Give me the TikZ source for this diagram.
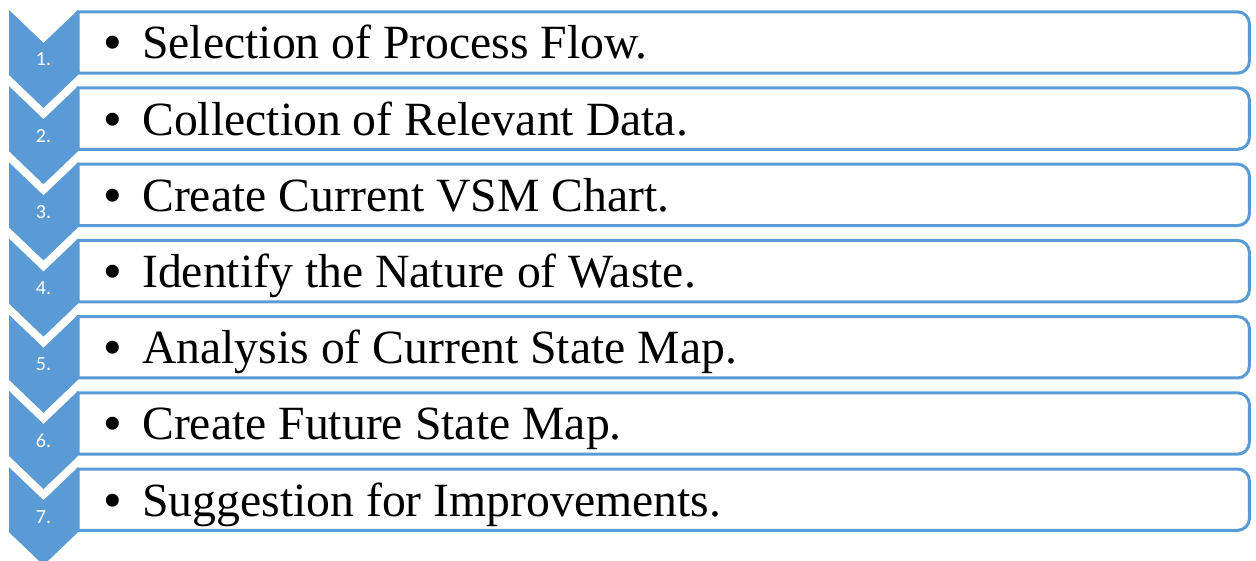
\documentclass[tikz,border=0pt]{standalone}
\usepackage{fontspec}
\setmainfont{Liberation Serif}
\newfontfamily\numfont{Carlito}
\newfontfamily\bulletfont{Liberation Sans}
\definecolor{accentblue}{HTML}{5B9BD5}
\begin{document}
\begin{tikzpicture}[x=1pt,y=1pt,
  chev/.style={fill=accentblue,draw=none},
  stepnum/.style={text=white,font=\numfont\fontsize{20}{24}\selectfont,inner sep=0pt,anchor=base},
  stepbox/.style={anchor=west,minimum width=1171pt,minimum height=61pt,
    inner ysep=0pt,inner xsep=26pt,text width=1119pt,align=flush left,
    text height=40pt,text depth=7pt,font=\fontsize{47.7}{57}\selectfont},
  boxline/.style={draw=accentblue,line width=3pt}]
\useasboundingbox (0,0) rectangle (1256,560);
\clip (0,0) rectangle (1256,560);
\foreach \i/\txt [count=\n] in {
    0/Selection of Process Flow.,
    1/Collection of Relevant Data.,
    2/Create Current VSM Chart.,
    3/Identify the Nature of Waste.,
    4/Analysis of Current State Map.,
    5/Create Future State Map.,
    6/Suggestion for Improvements.} {
  % top of the chevron and of the box for this step
  \pgfmathsetmacro\t{550-76.2*\i}
  \pgfmathsetmacro\bt{548-76.2*\i}
  % downward chevron
  \fill[chev] (9,\t) -- (43.5,\t-33) -- (78,\t) -- (78,\t-65)
    -- (43.5,\t-98) -- (9,\t-65) -- cycle;
  \node[stepnum] (n\n) at (43.5,\t-56) {\n.};
  % text box, square on the left, rounded on the right
  \node[stepbox] (b\n) at (78,\bt-30.5)
    {\makebox[38pt][l]{\bulletfont\textbullet}\txt};
  \draw[boxline] (b\n.north west) -- ([xshift=-12pt]b\n.north east)
    arc[start angle=90,end angle=0,radius=12pt]
    -- ([yshift=12pt]b\n.south east)
    arc[start angle=0,end angle=-90,radius=12pt]
    -- (b\n.south west) -- cycle;
}
\end{tikzpicture}
\end{document}
